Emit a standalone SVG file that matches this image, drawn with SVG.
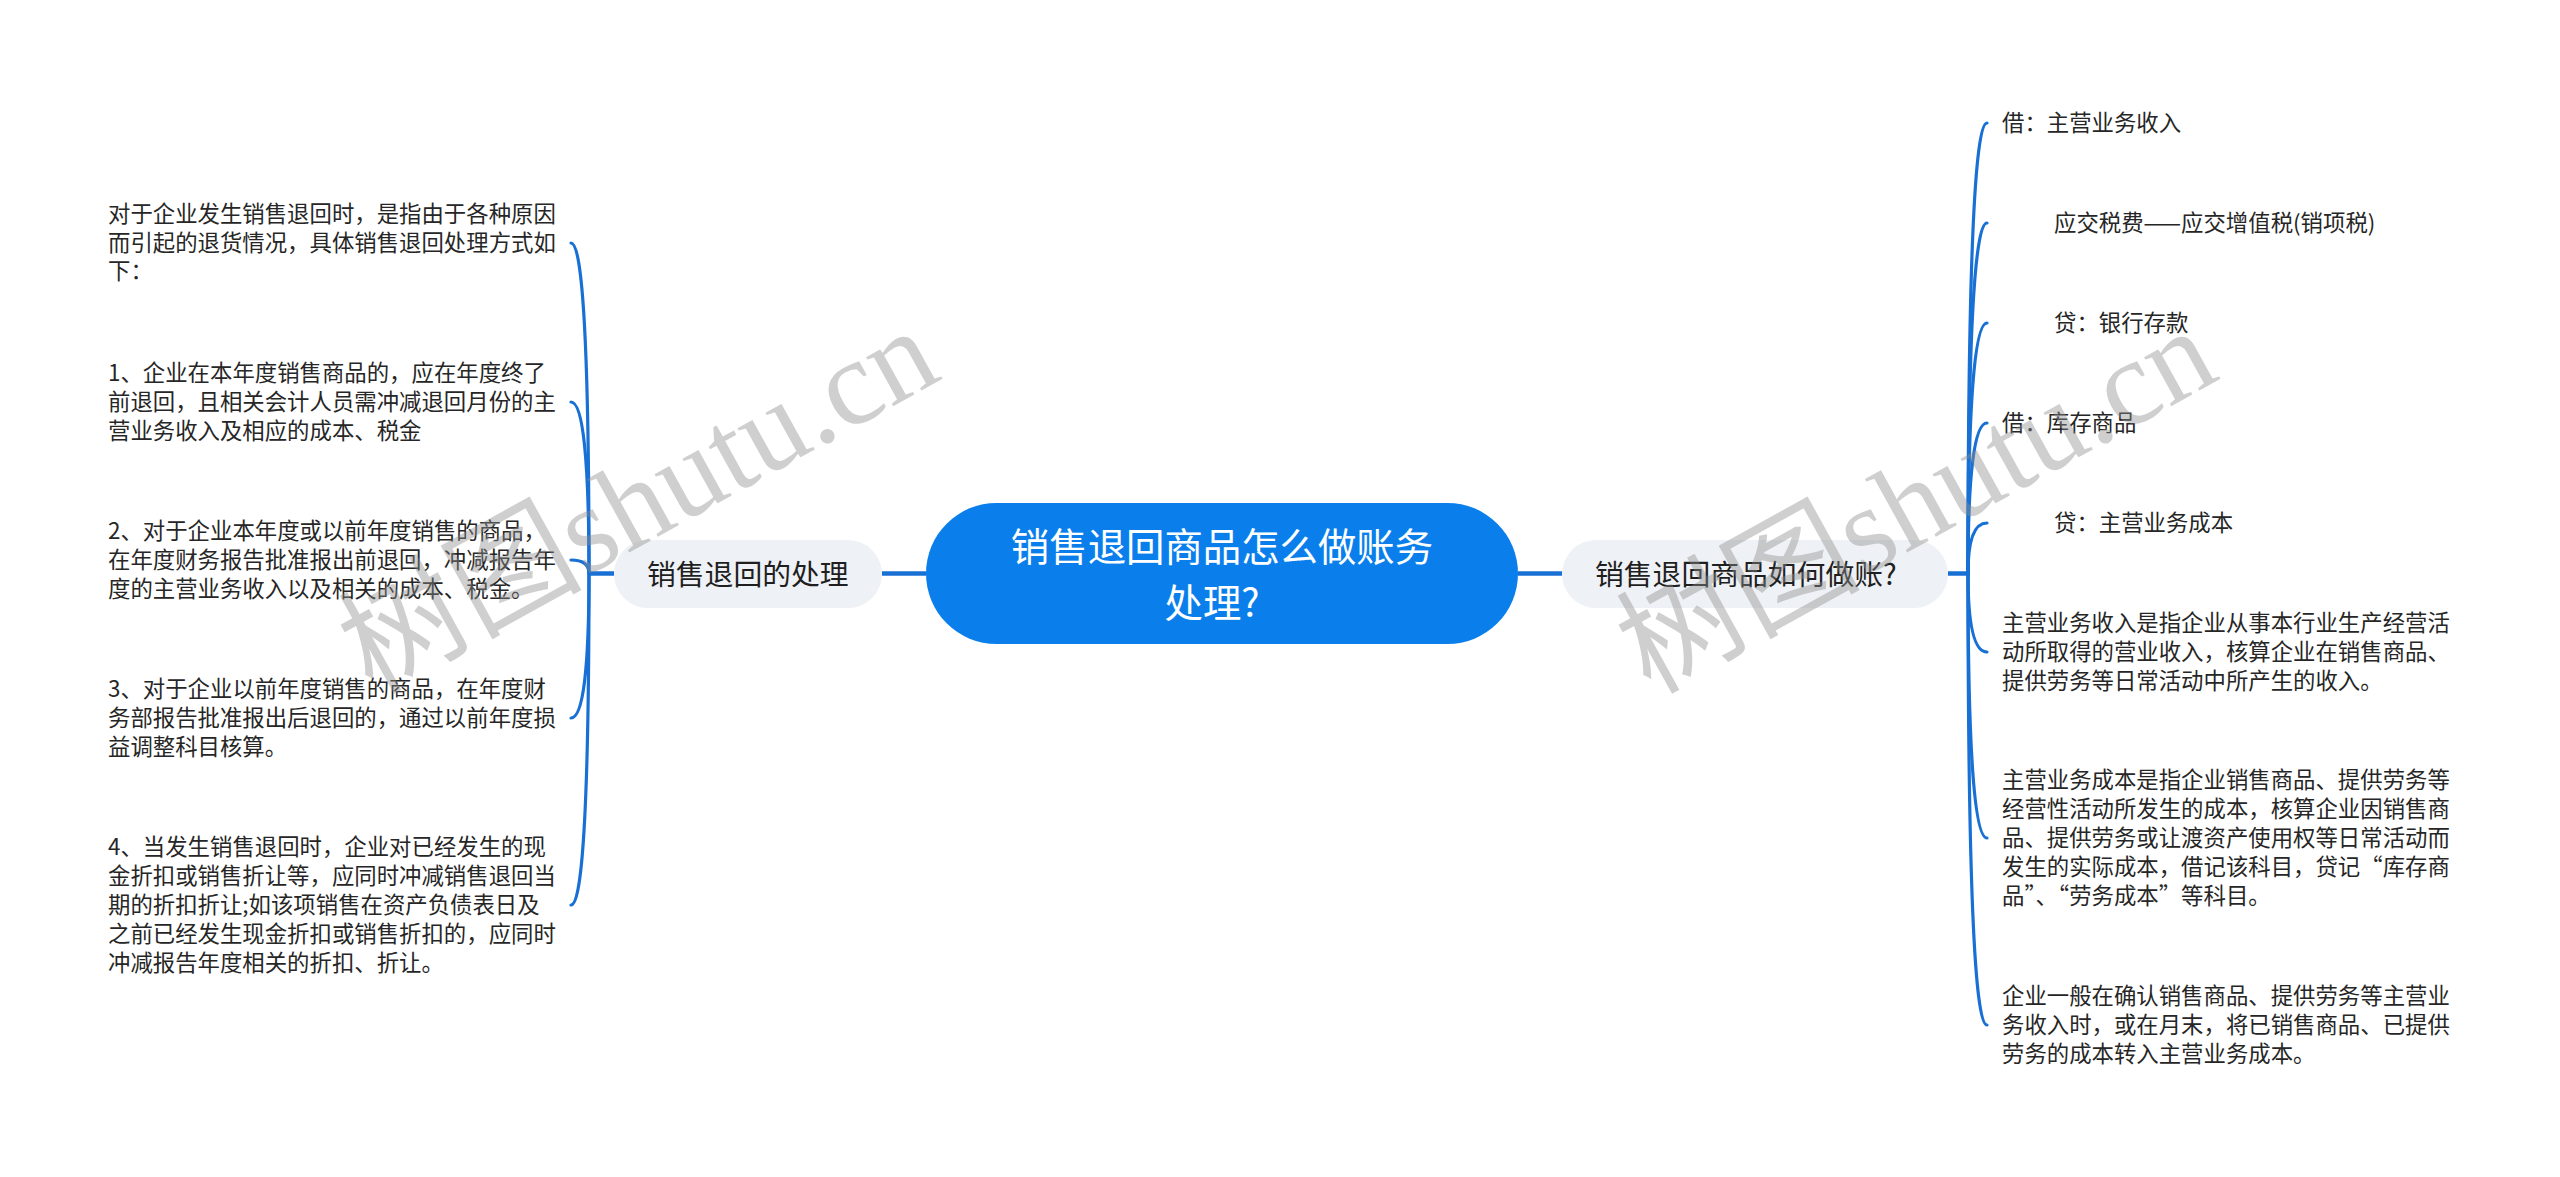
<svg xmlns="http://www.w3.org/2000/svg" width="2560" height="1177" viewBox="0 0 2560 1177">
<style>
.leaf{font-family:"Noto Sans CJK SC","Noto Sans",sans-serif;font-size:22.4px;fill:#262626}
.sub{font-family:"Noto Sans CJK SC","Noto Sans",sans-serif;font-size:28.8px;fill:#1f1f1f}
.root{font-family:"Noto Sans CJK SC","Noto Sans",sans-serif;font-size:38.4px;fill:#ffffff}
.subbox{fill:#eef1f5}
.link{fill:none;stroke:#1870d5;stroke-width:3.2;stroke-linecap:round}
.main{fill:none;stroke:#1870d5;stroke-width:4.5}
.wm{font-family:"Liberation Serif","Noto Sans CJK SC",serif;font-size:122px;fill:#8c8c8c;fill-opacity:0.42}
</style>
<rect width="2560" height="1177" fill="#ffffff"/>
<g id="connectors">
<path class="main" d="M882 573.5H926"/>
<path class="main" d="M1518 573.5H1562"/>
<path class="main" d="M614 573.5H589"/>
<path class="main" d="M1948 573.5H1968"/>
<path class="link" d="M589 573.5Q589 243 571 243"/>
<path class="link" d="M589 573.5Q589 402 571 402"/>
<path class="link" d="M589 573.5Q589 560 571 560"/>
<path class="link" d="M589 573.5Q589 718 571 718"/>
<path class="link" d="M589 573.5Q589 905 571 905"/>
<path class="link" d="M1968 573.5Q1968 123 1987 123"/>
<path class="link" d="M1968 573.5Q1968 223 1987 223"/>
<path class="link" d="M1968 573.5Q1968 323 1987 323"/>
<path class="link" d="M1968 573.5Q1968 423 1987 423"/>
<path class="link" d="M1968 573.5Q1968 523 1987 523"/>
<path class="link" d="M1968 573.5Q1968 652 1987 652"/>
<path class="link" d="M1968 573.5Q1968 838 1987 838"/>
<path class="link" d="M1968 573.5Q1968 1025 1987 1025"/>
</g>
<g id="root">
<rect x="926" y="503" width="592" height="141" rx="70.5" fill="#0a7fec"/>
<text class="root" x="1222" y="561" text-anchor="middle">销售退回商品怎么做账务</text>
<text class="root" x="1212" y="617" text-anchor="middle">处理?</text>
</g>
<g id="left-branch">
<rect class="subbox" x="614" y="540" width="268" height="68" rx="34"/>
<text class="sub" x="647" y="585">销售退回的处理</text>
</g>
<g id="right-branch">
<rect class="subbox" x="1562" y="540" width="386" height="68" rx="34"/>
<text class="sub" x="1595" y="585">销售退回商品如何做账?</text>
</g>
<g id="left-leaf-0">
<text class="leaf" x="108" y="221.7">对于企业发生销售退回时，是指由于各种原因</text>
<text class="leaf" x="108" y="250.5">而引起的退货情况，具体销售退回处理方式如</text>
<text class="leaf" x="108" y="279.3">下：</text>
</g>
<g id="left-leaf-1">
<text class="leaf" x="108" y="381.2">1、企业在本年度销售商品的，应在年度终了</text>
<text class="leaf" x="108" y="410">前退回，且相关会计人员需冲减退回月份的主</text>
<text class="leaf" x="108" y="438.8">营业务收入及相应的成本、税金</text>
</g>
<g id="left-leaf-2">
<text class="leaf" x="108" y="539.2">2、对于企业本年度或以前年度销售的商品，</text>
<text class="leaf" x="108" y="568">在年度财务报告批准报出前退回，冲减报告年</text>
<text class="leaf" x="108" y="596.8">度的主营业务收入以及相关的成本、税金。</text>
</g>
<g id="left-leaf-3">
<text class="leaf" x="108" y="697.2">3、对于企业以前年度销售的商品，在年度财</text>
<text class="leaf" x="108" y="726">务部报告批准报出后退回的，通过以前年度损</text>
<text class="leaf" x="108" y="754.8">益调整科目核算。</text>
</g>
<g id="left-leaf-4">
<text class="leaf" x="108" y="855.4">4、当发生销售退回时，企业对已经发生的现</text>
<text class="leaf" x="108" y="884.2">金折扣或销售折让等，应同时冲减销售退回当</text>
<text class="leaf" x="108" y="913">期的折扣折让;如该项销售在资产负债表日及</text>
<text class="leaf" x="108" y="941.8">之前已经发生现金折扣或销售折扣的，应同时</text>
<text class="leaf" x="108" y="970.6">冲减报告年度相关的折扣、折让。</text>
</g>
<g id="right-leaf-0"><text class="leaf" x="2002" y="131">借：主营业务收入</text></g>
<g id="right-leaf-1"><text class="leaf" x="2054" y="231">应交税费——应交增值税(销项税)</text></g>
<g id="right-leaf-2"><text class="leaf" x="2054" y="331">贷：银行存款</text></g>
<g id="right-leaf-3"><text class="leaf" x="2002" y="431">借：库存商品</text></g>
<g id="right-leaf-4"><text class="leaf" x="2054" y="531">贷：主营业务成本</text></g>
<g id="right-leaf-5">
<text class="leaf" x="2002" y="631.2">主营业务收入是指企业从事本行业生产经营活</text>
<text class="leaf" x="2002" y="660">动所取得的营业收入，核算企业在销售商品、</text>
<text class="leaf" x="2002" y="688.8">提供劳务等日常活动中所产生的收入。</text>
</g>
<g id="right-leaf-6">
<text class="leaf" x="2002" y="788.4">主营业务成本是指企业销售商品、提供劳务等</text>
<text class="leaf" x="2002" y="817.2">经营性活动所发生的成本，核算企业因销售商</text>
<text class="leaf" x="2002" y="846">品、提供劳务或让渡资产使用权等日常活动而</text>
<text class="leaf" x="2002" y="874.8">发生的实际成本，借记该科目，贷记“库存商</text>
<text class="leaf" x="2002" y="903.6">品”、“劳务成本”等科目。</text>
</g>
<g id="right-leaf-7">
<text class="leaf" x="2002" y="1004.2">企业一般在确认销售商品、提供劳务等主营业</text>
<text class="leaf" x="2002" y="1033">务收入时，或在月末，将已销售商品、已提供</text>
<text class="leaf" x="2002" y="1061.8">劳务的成本转入主营业务成本。</text>
</g>
<g id="watermarks">
<text class="wm" transform="translate(372 695) rotate(-29)">树图shutu.cn</text>
<text class="wm" transform="translate(1650 695) rotate(-29)">树图shutu.cn</text>
</g>
</svg>
